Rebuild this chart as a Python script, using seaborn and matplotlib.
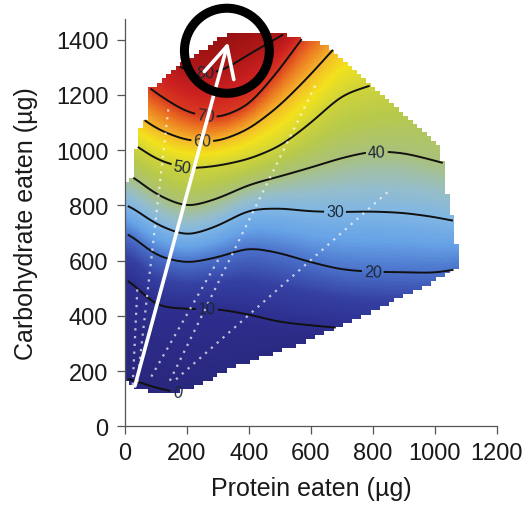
import numpy as np
import pandas as pd
import matplotlib
matplotlib.use("Agg")
import matplotlib.pyplot as plt
import seaborn as sns
from matplotlib.colors import LinearSegmentedColormap
from matplotlib.path import Path
from matplotlib.patches import Ellipse

# --- datos ---------------------------------------------------------------
# columnas de proteína (µg) donde se leyó la altura de cada isolínea
protein_cols = [0, 100, 200, 300, 400, 500, 600, 700, 800, 900, 1000, 1100]

# carbohidrato (µg) donde cada nivel de respuesta cruza cada columna
carb_at_0 = [178, 139, 116, 150, 200, 240, 270, 290, 300, 310, 320, 325]
carb_at_10 = [545, 434, 425, 425, 405, 377, 365, 355, 345, 340, 335, 330]
carb_at_20 = [710, 617, 590, 612, 648, 628, 594, 567, 559, 558, 555, 575]
carb_at_30 = [811, 731, 688, 725, 785, 790, 778, 776, 778, 773, 758, 735]
carb_at_40 = [926, 839, 792, 824, 875, 905, 937, 972, 997, 990, 962, 930]
carb_at_50 = [1045, 966, 932, 943, 967, 1013, 1098, 1200, 1237, 1270, 1300, 1330]
carb_at_60 = [1161, 1077, 1034, 1030, 1075, 1161, 1274, 1400, 1500, 1560, 1600, 1640]
carb_at_70 = [1297, 1206, 1136, 1114, 1161, 1293, 1450, 1550, 1650, 1700, 1750, 1800]
carb_at_80 = [1450, 1350, 1285, 1277, 1347, 1411, 1480, 1650, 1750, 1800, 1850, 1900]
carb_at_90 = [1650, 1550, 1500, 1500, 1550, 1600, 1700, 1800, 1900, 1950, 2000, 2050]
response_levels = [0, 10, 20, 30, 40, 50, 60, 70, 80, 90]

# contorno del dominio de ingesta observado
boundary_protein = [6, 6, 26, 29, 42, 55, 71, 81, 216, 345, 452, 500, 565, 639, 678,
                    791, 865, 962, 1017, 1027, 1040, 1059, 1072, 1088, 952, 768, 607,
                    523, 362, 210, 145, 71, 26]
boundary_carb = [171, 878, 896, 969, 1023, 1096, 1121, 1223, 1339, 1430, 1430, 1423,
                 1405, 1386, 1361, 1234, 1162, 1078, 1017, 959, 861, 752, 669, 582,
                 498, 400, 317, 280, 219, 135, 117, 128, 146]

# rieles de dieta (puntos blancos): inicio y fin
rail_protein_start = [25, 40, 85, 145, 165]
rail_carb_start = [150, 160, 180, 165, 170]
rail_protein_end = [40, 140, 310, 615, 860]
rail_carb_end = [500, 1150, 620, 1235, 860]

# flecha blanca
arrow_start = (32, 146)
arrow_tip = (333, 1391)

# posiciones de las etiquetas de las isolíneas
label_positions = [(187, 117), (265, 423), (800, 559), (678, 769), (813, 998),
                   (181, 921), (249, 1015), (258, 1106), (258, 1266)]

# --- superficie -------------------------------------------------------------
table = np.array([carb_at_0, carb_at_10, carb_at_20, carb_at_30, carb_at_40,
                  carb_at_50, carb_at_60, carb_at_70, carb_at_80, carb_at_90], float)
pf = np.arange(0, 1101, 3.0)
cf = np.arange(100, 1461, 3.0)

H = np.array([np.interp(pf, protein_cols, row) for row in table])
# suavizado ligero de las isolíneas (solo para que no queden quebradas)
half = 40
kern = np.exp(-0.5 * (np.arange(-half, half + 1) * 3 / 30.0) ** 2)
kern /= kern.sum()
H = np.array([np.convolve(np.pad(h, half, mode="edge"), kern, mode="valid") for h in H])
Z = np.array([np.interp(cf, H[:, j], response_levels) for j in range(len(pf))]).T

PP, CC = np.meshgrid(pf, cf)
outline = Path(np.column_stack([boundary_protein, boundary_carb]))
inside = outline.contains_points(np.column_stack([PP.ravel(), CC.ravel()])).reshape(PP.shape)
step = 15
coarse = np.column_stack([(np.floor(PP.ravel() / step) + 0.5) * step,
                          (np.floor(CC.ravel() / step) + 0.5) * step])
inside_blocky = outline.contains_points(coarse).reshape(PP.shape)

stops = [(0, "#29287e"), (10, "#2d2e8e"), (15, "#3440a2"), (20, "#4b72cb"),
         (25, "#66a2e6"), (30, "#80b6e4"), (34, "#94bdcc"), (37, "#a0bfa8"),
         (40, "#aac17a"), (45, "#b6c94c"), (50, "#cfd33a"), (55, "#f2e21c"),
         (60, "#f4b62a"), (65, "#ec7a22"), (70, "#da3a20"), (75, "#cc2020"),
         (80, "#b01818"), (90, "#860c0c")]
cmap = LinearSegmentedColormap.from_list("respuesta", [(v / 90, c) for v, c in stops])

# --- figura -----------------------------------------------------------------
sns.set_theme(style="ticks")
plt.rcParams["font.family"] = ["Liberation Sans", "DejaVu Sans"]

fig = plt.figure(figsize=(5.3, 5.1), dpi=100)
ax = fig.add_axes([0.2358, 0.1622, 0.7013, 0.7986])

ax.pcolormesh(pf, cf, np.ma.masked_where(~inside_blocky, Z), cmap=cmap,
              vmin=0, vmax=90, shading="nearest", zorder=1)
cs = ax.contour(pf, cf, np.ma.masked_where(~inside, Z),
                levels=[0.01, 10, 20, 30, 40, 50, 60, 70, 80],
                colors="#111111", linewidths=1.4, zorder=2)
ax.clabel(cs, fmt=lambda v: f"{int(round(v))}", fontsize=11.5, colors="#1c2838",
          inline=True, inline_spacing=3, manual=label_positions)

rails = pd.DataFrame({
    "rail": np.repeat(np.arange(len(rail_protein_start)), 2),
    "protein": np.column_stack([rail_protein_start, rail_protein_end]).ravel(),
    "carb": np.column_stack([rail_carb_start, rail_carb_end]).ravel(),
})
sns.lineplot(data=rails, x="protein", y="carb", units="rail", estimator=None,
             sort=False, color="white", linewidth=1.6, linestyle=(0, (1, 2.5)),
             alpha=0.7, legend=False, ax=ax, zorder=3)

ax.annotate("", xy=arrow_tip, xytext=arrow_start,
            arrowprops=dict(arrowstyle="->,head_length=1.1,head_width=0.55",
                            color="white", lw=2.6, mutation_scale=20,
                            shrinkA=0, shrinkB=0), zorder=4)

ring = Ellipse((329, 1360), width=274, height=308, fill=False, edgecolor="black",
               linewidth=6.5, clip_on=False, zorder=5)
ax.add_patch(ring)

ax.set_xlim(0, 1200)
ax.set_ylim(0, 1475)
ax.set_xticks(range(0, 1201, 200))
ax.set_yticks(range(0, 1401, 200))
ax.tick_params(direction="out", length=6, width=0.9, color="#555555",
               labelsize=17, labelcolor="#1a1a1a")
ax.tick_params(axis="x", pad=5)
ax.tick_params(axis="y", pad=6)
sns.despine(ax=ax)
for side in ["left", "bottom"]:
    ax.spines[side].set_color("#555555")
    ax.spines[side].set_linewidth(0.9)

ax.set_xlabel("Protein eaten (µg)", fontsize=18, color="#1a1a1a")
ax.set_ylabel("Carbohydrate eaten (µg)", fontsize=18, color="#1a1a1a")
ax.xaxis.set_label_coords(0.50, -0.122)
ax.yaxis.set_label_coords(-0.235, 0.5)

fig.savefig("out.png", dpi=100)
